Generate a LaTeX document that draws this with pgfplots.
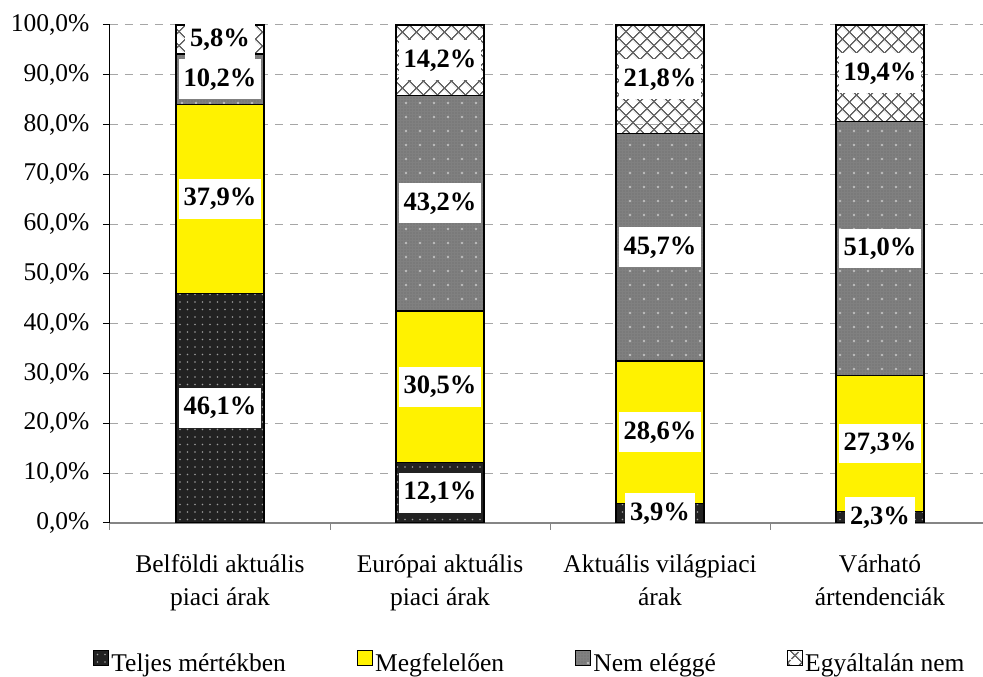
\documentclass[border=0pt]{standalone}
\usepackage{fontspec}
\setmainfont{Liberation Serif}
\usepackage{pgfplots}
\usepackage{pgfplotstable}
\pgfplotsset{compat=1.18}
\usetikzlibrary{patterns, patterns.meta}

\definecolor{darkfill}{HTML}{222222}
\definecolor{darkdot}{HTML}{9C9C9C}
\definecolor{midfill}{HTML}{808080}
\definecolor{midfine}{HTML}{6A6A6A}
\definecolor{middot}{HTML}{BEBEBE}
\definecolor{hatchcol}{HTML}{666666}
\definecolor{gridcol}{HTML}{A6A6A6}
\definecolor{axisgray}{HTML}{858585}

\newcommand{\chartfont}{\fontsize{25.5}{33}\selectfont}

% fill textures of the four answer groups
\tikzset{
  darkdots/.style={pattern={Dots[distance=7.5pt, radius=0.9pt]}, pattern color=darkdot},
  finedots/.style={pattern={Dots[distance=3pt, radius=0.6pt]}, pattern color=midfine},
  lightdots/.style={pattern={Dots[distance=14pt, radius=1.3pt]}, pattern color=middot},
  diamonds/.style={pattern={Hatch[angle=45, distance=10.5pt, line width=1.6pt]}, pattern color=hatchcol},
}

% Answer shares per price reference (percent)
\pgfplotstableread{
x teljes megf nem egyalt
0 46.1 37.9 10.2 5.8
1 12.1 30.5 43.2 14.2
2 3.9 28.6 45.7 21.8
3 2.3 27.3 51.0 19.4
}\shares

\pgfplotsset{
  frame/.style={
    scale only axis,
    width=873pt, height=498pt,
    at={(110pt,154pt)}, anchor=south west,
    xmin=-0.5, xmax=3.468,
    ymin=0, ymax=100,
  },
  legbox/.style={legend image code/.code={
    \draw[##1, draw=black, line width=1.3pt] (0pt,-2pt) rectangle (15pt,13pt);}},
}

\begin{document}
\begin{tikzpicture}
\useasboundingbox (0,0) rectangle (983pt,677pt);

% bars, axes, grid and legend
\begin{axis}[
  frame,
  ybar stacked, bar width=88pt,
  axis x line=bottom, axis y line=left,
  x axis line style={-, draw=axisgray, line width=1.6pt},
  y axis line style={-, draw=black, line width=1pt},
  xtick={0,1,2,3},
  xticklabels={Belföldi aktuális\\piaci árak, Európai aktuális\\piaci árak, Aktuális világpiaci\\árak, Várható\\ártendenciák},
  xticklabel style={align=center, font=\chartfont, yshift=-21pt},
  xtick style={draw=none},
  extra x ticks={-0.5,0.5,1.5,2.5},
  extra x tick labels={},
  extra x tick style={grid=none, xtick style={draw=axisgray, line width=1pt}},
  ytick={0,10,...,100},
  tick align=outside,
  major tick length=7pt,
  ytick style={draw=black, line width=1pt},
  yticklabel={\pgfmathprintnumber[fixed, fixed zerofill, precision=1, use comma]{\tick}\%},
  yticklabel style={font=\chartfont, xshift=-10pt},
  /pgf/number format/assume math mode=true,
  ymajorgrids,
  major grid style={draw=gridcol, line width=1pt, dash pattern=on 8pt off 7pt},
  legend columns=4,
  legend style={
    draw=none, fill=none, font=\chartfont,
    at={(axis description cs:-0.023,-0.25)}, anchor=north west,
    /tikz/every odd column/.append style={column sep=1pt},
    /tikz/every even column/.append style={column sep=70pt},
    nodes={inner xsep=1pt},
  },
]
\addplot[legbox, draw=black, line width=1.5pt, fill=darkfill,
  postaction={darkdots}]
  table[x=x, y=teljes] \shares;
\addplot[legbox, draw=black, line width=1.5pt, fill=yellow]
  table[x=x, y=megf] \shares;
\addplot[legbox, draw=black, line width=1.5pt, fill=midfill,
  postaction={finedots}, postaction={lightdots}]
  table[x=x, y=nem] \shares;
\addplot[legbox, draw=black, line width=1.5pt, diamonds]
  table[x=x, y=egyalt] \shares;
\legend{Teljes mértékben, Megfelelően, Nem eléggé, Egyáltalán nem}
\end{axis}

% value labels centred on each segment
\begin{axis}[
  frame,
  hide axis,
  point meta=explicit,
  nodes near coords={\pgfmathprintnumber[fixed, fixed zerofill, precision=1, use comma]{\pgfplotspointmeta}\%},
  nodes near coords style={/pgf/number format/assume math mode=true},
  every node near coord/.append style={
    anchor=center, fill=white, text=black,
    font=\bfseries\fontsize{26.5}{33}\selectfont, inner xsep=5pt, inner ysep=9pt},
]
\addplot[only marks, mark=none] table[x=x, y expr=\thisrow{teljes}/2, meta=teljes] \shares;
\addplot[only marks, mark=none] table[x=x, y expr=\thisrow{teljes}+\thisrow{megf}/2, meta=megf] \shares;
\addplot[only marks, mark=none] table[x=x, y expr=\thisrow{teljes}+\thisrow{megf}+\thisrow{nem}/2, meta=nem] \shares;
\addplot[only marks, mark=none] table[x=x, y expr=100-\thisrow{egyalt}/2, meta=egyalt] \shares;
\end{axis}
\end{tikzpicture}
\end{document}
